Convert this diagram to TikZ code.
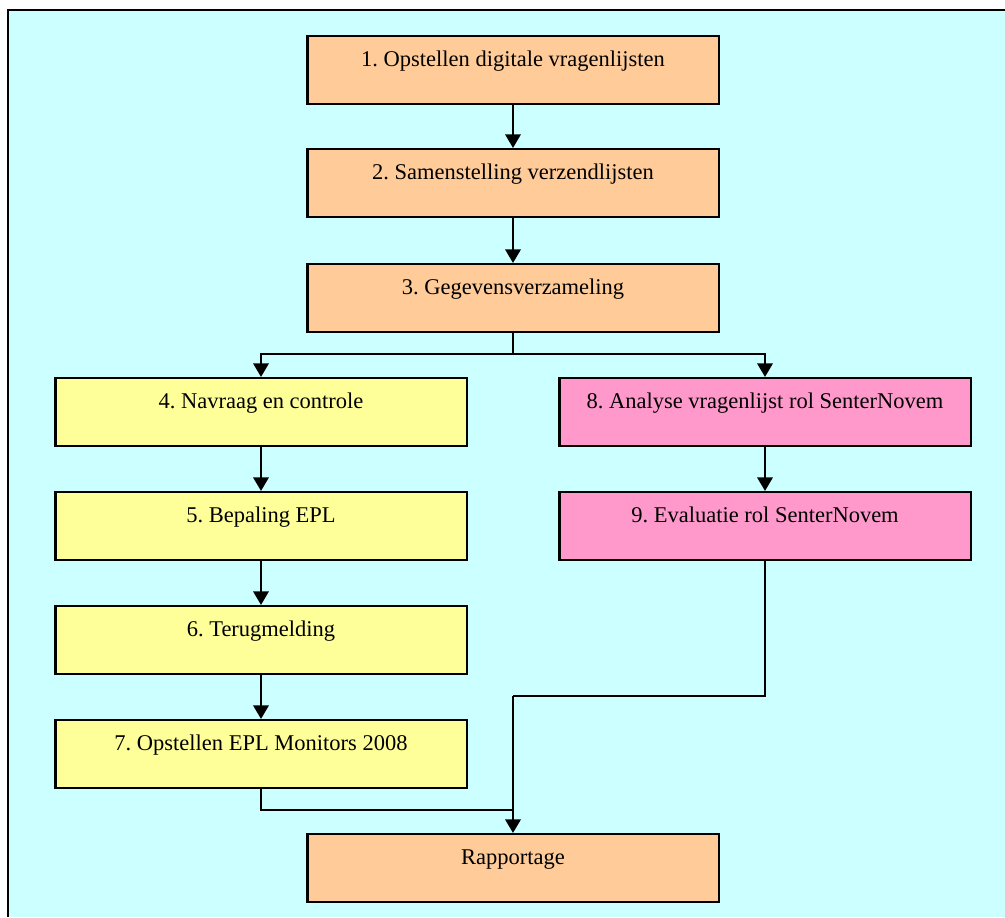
\documentclass[tikz,border=0pt]{standalone}
\usepackage{fontspec}
\setmainfont{Liberation Serif}
\usetikzlibrary{arrows.meta}
\frenchspacing
\definecolor{achtergrond}{HTML}{CCFFFF}
\definecolor{oranje}{HTML}{FFCC99}
\definecolor{geel}{HTML}{FFFF99}
\definecolor{roze}{HTML}{FF99CC}
\tikzstyle{stap} = [draw, line width=1.5pt, anchor=north, inner sep=0pt, minimum width=10.275cm, text height=0.75cm, text depth=0.95cm, font=\fontsize{16}{19}\selectfont]
\tikzstyle{pijl} = [draw, -{Triangle[length=0.34cm,width=0.38cm]}, line width=1.9pt]
\tikzstyle{lijn} = [draw, line width=1.9pt]

\begin{document}
\begin{tikzpicture}[x=0.025cm,y=-0.025cm]
	\useasboundingbox (0,0) rectangle (1005,917);
	% -------------- Achtergrond --------------
	\fill[achtergrond] (8,10) rectangle (1005,917);
	\draw[line width=1.6pt] (8,917) -- (8,10) -- (1005,10);
	% -------------- Middenkolom --------------
	\node[stap, fill=oranje] (s1)  at (513,35)  {1. Opstellen digitale vragenlijsten};
	\node[stap, fill=oranje] (s2)  at (513,148) {2. Samenstelling verzendlijsten};
	\node[stap, fill=oranje] (s3)  at (513,263) {3. Gegevensverzameling};
	\node[stap, fill=oranje] (rap) at (513,833) {Rapportage};
	% -------------- Linkerkolom --------------
	\node[stap, fill=geel] (s4) at (261,377) {4. Navraag en controle};
	\node[stap, fill=geel] (s5) at (261,491) {5. Bepaling EPL};
	\node[stap, fill=geel] (s6) at (261,605) {6. Terugmelding};
	\node[stap, fill=geel] (s7) at (261,719) {7. Opstellen EPL Monitors 2008};
	% -------------- Rechterkolom --------------
	\node[stap, fill=roze] (s8) at (765,377) {8. Analyse vragenlijst rol SenterNovem};
	\node[stap, fill=roze] (s9) at (765,491) {9. Evaluatie rol SenterNovem};
	% -------------- Verbindingen --------------
	\coordinate (splits) at (513,354);
	\coordinate (samen9) at (513,696);
	\coordinate (samen7) at (513,810);
	\path[pijl] (s1.south) -- (s2.north);
	\path[pijl] (s2.south) -- (s3.north);
	\path[lijn] (s3.south) -- (splits);
	\path[pijl] (splits) -| (s4.north);
	\path[pijl] (splits) -| (s8.north);
	\path[pijl] (s4.south) -- (s5.north);
	\path[pijl] (s5.south) -- (s6.north);
	\path[pijl] (s6.south) -- (s7.north);
	\path[pijl] (s8.south) -- (s9.north);
	\path[lijn] (s9.south) |- (samen9);
	\path[lijn] (s7.south) |- (samen7);
	\path[pijl] (samen9) -- (rap.north);
\end{tikzpicture}
\end{document}
